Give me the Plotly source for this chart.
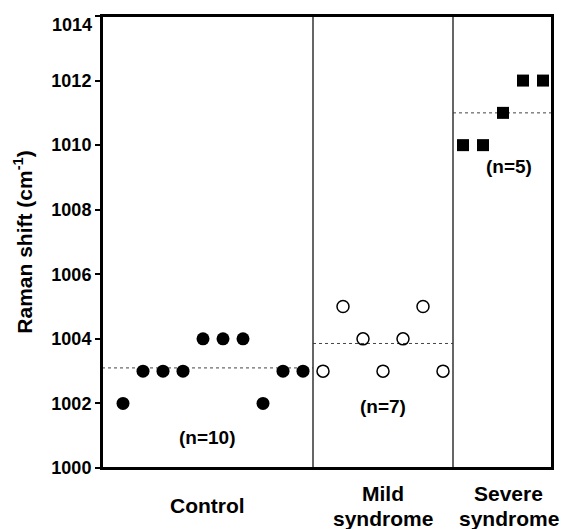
import plotly.graph_objects as go

groups = ["Control", "Mild<br>syndrome", "Severe<br>syndrome"]
control = [1002, 1003, 1003, 1003, 1004, 1004, 1004, 1002, 1003, 1003]
mild = [1003, 1005, 1004, 1003, 1004, 1005, 1003]
severe = [1010, 1010, 1011, 1012, 1012]
n_labels = ["(n=10)", "(n=7)", "(n=5)"]
n_label_y = [1000.95, 1001.9, 1009.35]
y_ticks = [1000, 1002, 1004, 1006, 1008, 1010, 1012, 1014]

FONT = "Liberation Sans, Arial, sans-serif"
x_min, x_max = -0.05, 22.45

x_c = list(range(1, 1 + len(control)))
x_m = list(range(x_c[-1] + 1, x_c[-1] + 1 + len(mild)))
x_s = list(range(x_m[-1] + 1, x_m[-1] + 1 + len(severe)))

bounds = [(x_min, x_c[-1] + 0.5), (x_m[0] - 0.5, x_m[-1] + 0.5), (x_s[0] - 0.5, x_max)]
label_shift = [0, 0, 6]

fig = go.Figure()
fig.add_trace(go.Scatter(x=x_c, y=control, mode="markers", cliponaxis=False,
                         marker=dict(symbol="circle", size=13, color="black", line=dict(width=0))))
fig.add_trace(go.Scatter(x=x_m, y=mild, mode="markers", cliponaxis=False,
                         marker=dict(symbol="circle-open", size=12, color="black", line=dict(width=1.5))))
fig.add_trace(go.Scatter(x=x_s, y=severe, mode="markers", cliponaxis=False,
                         marker=dict(symbol="square", size=12, color="black", line=dict(width=0))))

datasets = [control, mild, severe]
for (x0, x1), vals in zip(bounds, datasets):
    m = sum(vals) / len(vals)
    fig.add_shape(type="line", xref="x", yref="y", x0=x0, x1=x1, y0=m, y1=m,
                  line=dict(color="#444444", width=1, dash="dot"), layer="below")

for b in [bounds[0][1], bounds[1][1]]:
    fig.add_shape(type="line", xref="x", yref="paper", x0=b, x1=b, y0=0, y1=1,
                  line=dict(color="#333333", width=1.5))

fig.add_shape(type="rect", xref="paper", yref="paper", x0=0, x1=1, y0=0, y1=1,
              line=dict(color="black", width=2))

for (x0, x1), lab, ny, sh in zip(bounds, n_labels, n_label_y, label_shift):
    xc = (x0 + x1) / 2
    fig.add_annotation(x=xc, y=ny, text=lab, showarrow=False, xshift=sh,
                       font=dict(family=FONT, size=19, color="black", weight="bold"))

for (x0, x1), g, sh in zip(bounds, groups, label_shift):
    xc = (x0 + x1) / 2
    lines = g.split("<br>")
    if len(lines) == 1:
        shifts = [-37]
    else:
        shifts = [-25, -50]
    for ln, ys in zip(lines, shifts):
        fig.add_annotation(x=xc, y=0, xref="x", yref="paper", yshift=ys, yanchor="middle",
                           xshift=sh, text=ln, showarrow=False,
                           font=dict(family=FONT, size=21, color="black", weight="bold"))

# top tick label drawn slightly below its tick, as in the original
tick_text = [str(t) for t in y_ticks[:-1]] + [""]
fig.add_annotation(x=0, xref="paper", y=y_ticks[-1], yref="y", xanchor="right", yanchor="middle",
                   xshift=-8, yshift=-9, text=str(y_ticks[-1]), showarrow=False,
                   font=dict(family=FONT, size=18, color="black", weight="bold"))

fig.update_layout(
    width=563, height=529,
    margin=dict(l=102, r=11, t=16, b=61, autoexpand=False),
    plot_bgcolor="white", paper_bgcolor="white",
    showlegend=False,
    font=dict(family=FONT, color="black"),
)
fig.update_xaxes(range=[x_min, x_max], showgrid=False, zeroline=False, showticklabels=False,
                 ticks="", showline=True, linecolor="black", linewidth=2, mirror=True,
                 automargin=False)
fig.update_yaxes(range=[1000, 1014], tickvals=y_ticks, ticktext=tick_text,
                 showgrid=False, zeroline=False, ticks="outside", ticklen=5, tickwidth=1.5,
                 tickcolor="black", showline=True, linecolor="black", linewidth=2, mirror=True,
                 automargin=False, ticklabeloverflow="allow",
                 tickfont=dict(family=FONT, size=18, color="black", weight="bold"),
                 title=dict(text="Raman shift (cm<sup>-1</sup>)", standoff=13,
                            font=dict(family=FONT, size=21, color="black", weight="bold")))

fig.write_html("out.html", config={"displayModeBar": False},
               post_script="document.body.style.margin='0';")
